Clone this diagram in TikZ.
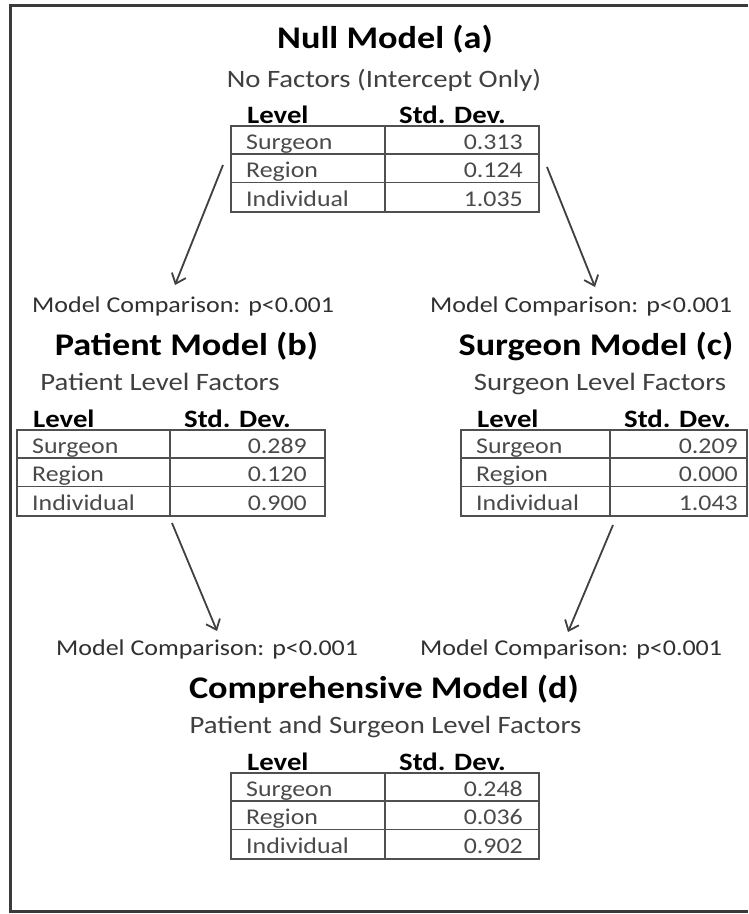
\documentclass[tikz,border=0pt]{standalone}
\usepackage{fontspec}
\setmainfont{Carlito}[FakeStretch=1.15]
\usetikzlibrary{arrows.meta}
\definecolor{frm}{HTML}{3A3A3A}
\definecolor{tcol}{HTML}{505050}
\definecolor{acol}{HTML}{404040}
\definecolor{subc}{HTML}{404040}
\definecolor{cellc}{HTML}{4A4A4A}
\definecolor{cmpc}{HTML}{303030}
\newcommand{\mtable}[9]{% name, left, div, right, top, valx, v1, v2, v3
  \pgfmathsetmacro{\tw}{#4-#2}
  \pgfmathsetmacro{\rh}{28.7}
  \pgfmathsetmacro{\th}{3*\rh}
  \node[tbl, minimum width=\tw pt, minimum height=\th pt, anchor=north west] (#1) at (#2,#5) {};
  \draw[tline] (#3,#5) -- (#3,{#5+\th});
  \draw[tline] (#2,{#5+\rh}) -- (#4,{#5+\rh});
  \draw[tline] (#2,{#5+2*\rh}) -- (#4,{#5+2*\rh});
  \node[hdr] (#1-h1) at ({#2+17},{#5-1.5}) {Level};
  \node[hdr] (#1-h2) at ({#3+14},{#5-1.5}) {Std. Dev.};
  \node[cell, anchor=base west] (#1-l1) at ({#2+16},{#5+\rh-4.5}) {Surgeon};
  \node[cell, anchor=base west] (#1-l2) at ({#2+16},{#5+2*\rh-4.5}) {Region};
  \node[cell, anchor=base west] (#1-l3) at ({#2+16},{#5+3*\rh-4.5}) {Individual};
  \node[cell, anchor=base east] (#1-v1) at (#6,{#5+\rh-4.5}) {#7};
  \node[cell, anchor=base east] (#1-v2) at (#6,{#5+2*\rh-4.5}) {#8};
  \node[cell, anchor=base east] (#1-v3) at (#6,{#5+3*\rh-4.5}) {#9};
}
\begin{document}
\begin{tikzpicture}[x=1pt,y=-1pt,
  frame/.style={draw=frm, line width=3pt},
  tbl/.style={draw=tcol, line width=1.8pt, inner sep=0pt},
  tline/.style={draw=tcol, line width=1.8pt},
  arr/.style={draw=acol, line width=1.8pt, -{Straight Barb[length=9pt,width=15pt]}},
  ttl/.style={font=\fontsize{31.5}{34}\selectfont\bfseries, text=black, inner sep=0pt, anchor=base},
  sub/.style={font=\fontsize{25}{28}\selectfont, text=subc, inner sep=0pt, anchor=base},
  hdr/.style={font=\fontsize{25}{28}\selectfont\bfseries, text=black, inner sep=0pt, anchor=base west},
  cell/.style={font=\fontsize{22.5}{25}\selectfont, text=cellc, inner sep=0pt},
  cmp/.style={font=\fontsize{22.6}{25}\selectfont, text=cmpc, inner sep=0pt, anchor=base west},
]
\useasboundingbox (0,0) rectangle (748,914);
\fill[white] (0,0) rectangle (748,914);
% frame
\coordinate (f1) at (748,5);
\coordinate (f2) at (10,5);
\coordinate (f3) at (10,911);
\coordinate (f4) at (748,911);
\draw[frame] (f1) -- (f2) -- (f3) -- (f4);

% Null model
\node[ttl] (ta) at (385,48) {Null Model (a)};
\node[sub] (sa) at (384,87) {No Factors (Intercept Only)};
\mtable{tba}{230}{385}{538}{125}{523}{0.313}{0.124}{1.035}

% comparison labels
\node[cmp] (cb) at (32,312) {Model Comparison: p<0.001};
\node[cmp] (cc) at (430,312) {Model Comparison: p<0.001};

% Patient model
\node[ttl] (tb) at (186.5,355) {Patient Model (b)};
\node[sub] (sb) at (160,390) {Patient Level Factors};
\mtable{tbb}{16}{170}{324}{429}{307}{0.289}{0.120}{0.900}

% Surgeon model
\node[ttl] (tc) at (596,355) {Surgeon Model (c)};
\node[sub] (sc) at (600,390) {Surgeon Level Factors};
\mtable{tbc}{460}{610}{746}{429}{738}{0.209}{0.000}{1.043}

% comparison labels bottom
\node[cmp] (cd1) at (56,655) {Model Comparison: p<0.001};
\node[cmp] (cd2) at (420,655) {Model Comparison: p<0.001};

% Comprehensive model
\node[ttl] (td) at (384,698) {Comprehensive Model (d)};
\node[sub] (sd) at (385.5,733) {Patient and Surgeon Level Factors};
\mtable{tbd}{230}{385}{538}{772}{523}{0.248}{0.036}{0.902}

% arrows
\coordinate (a1s) at (223,165);
\coordinate (a1e) at (175,285);
\coordinate (a2s) at (547,167);
\coordinate (a2e) at (595,287);
\coordinate (a3s) at (172,523);
\coordinate (a3e) at (217,631);
\coordinate (a4s) at (613,525);
\coordinate (a4e) at (568,632);
\draw[arr] (a1s) -- (a1e);
\draw[arr] (a2s) -- (a2e);
\draw[arr] (a3s) -- (a3e);
\draw[arr] (a4s) -- (a4e);
\end{tikzpicture}
\end{document}
